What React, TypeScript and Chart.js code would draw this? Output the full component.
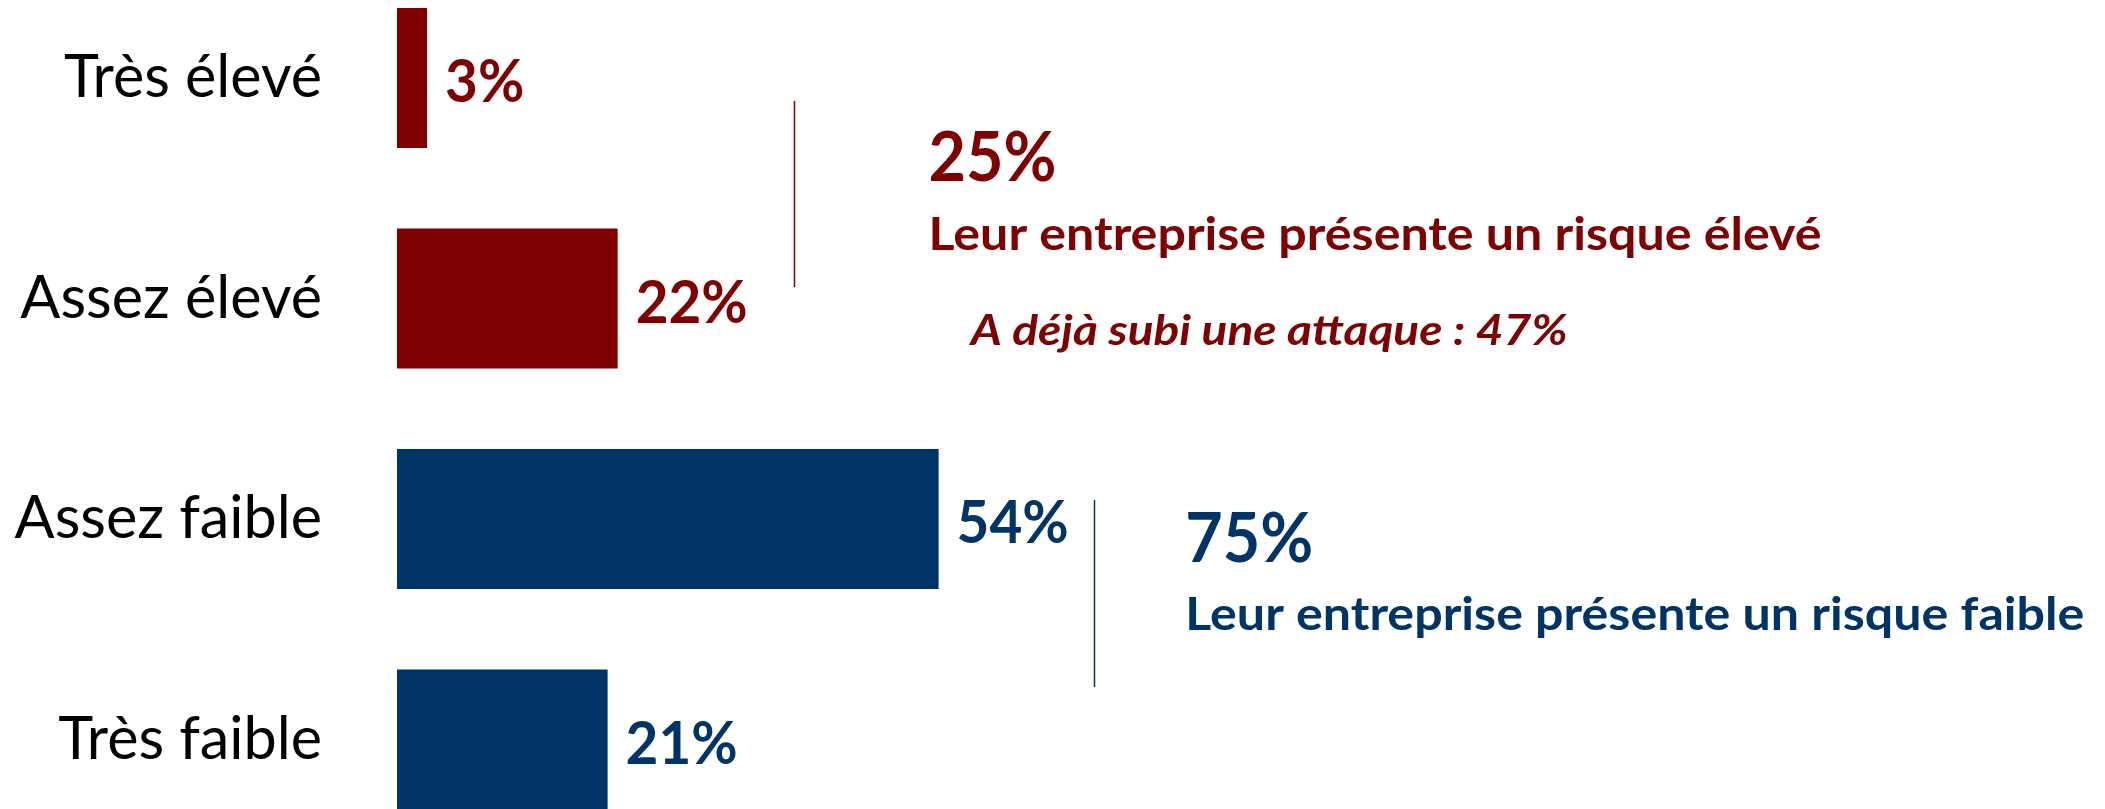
import React, { useEffect, useRef } from "react";
import { Chart, registerables } from "chart.js";

Chart.register(...registerables);

// ---- data ----
const categories = ["Très élevé", "Assez élevé", "Assez faible", "Très faible"];
const values = [3, 22, 54, 21];
const valueLabels = ["3%", "22%", "54%", "21%"];
const riskGroup = ["élevé", "élevé", "faible", "faible"];

const summaryTotals = ["25%", "75%"];
const summaryTexts = [
  "Leur entreprise présente un risque élevé",
  "Leur entreprise présente un risque faible",
];
const attackNote = "A déjà subi une attaque : 47%";

// ---- styles ----
const RED = "#7F0000";
const BLUE = "#003366";
const groupColor: Record<string, string> = { "élevé": RED, faible: BLUE };
const FAMILY = "Lato";
const CAP = 0.7165; // Lato cap-height ratio
const W = 2105;
const H = 809;

function widthAt(ctx: CanvasRenderingContext2D, text: string, font: string) {
  ctx.font = font;
  return ctx.measureText(text).width;
}

export default function App() {
  const ref = useRef<HTMLCanvasElement | null>(null);

  useEffect(() => {
    document.body.style.margin = "0";
    const canvas = ref.current!;
    const mctx = document.createElement("canvas").getContext("2d")!;

    const tickSize =
      (100 * 258) / widthAt(mctx, "Très élevé", `normal 100px ${FAMILY}`);

    // font specs: size from cap height, horizontal squeeze from target width
    const spec = (capPx: number, style: string, sample: string, target: number) => {
      const size = capPx / CAP;
      const font = `${style} ${size}px ${FAMILY}`;
      const sx = target / widthAt(mctx, sample, font);
      return { font, sx: Math.min(sx, 1.3) };
    };
    const valueSpec = spec(42, "bold", "54%", 112);
    const totalSpec = spec(49, "bold", "25%", 128);
    const textSpec = spec(33, "bold", summaryTexts[0], 893);
    const noteSpec = spec(30, "italic bold", attackNote, 597);

    const annot = {
      id: "annot",
      afterDatasetsDraw(chart: any) {
        const { ctx } = chart;
        const x = chart.scales.x;
        const y = chart.scales.y;
        const draw = (s: { font: string; sx: number }, text: string, px: number, py: number) => {
          ctx.save();
          ctx.font = s.font;
          ctx.translate(px, py);
          ctx.scale(s.sx, 1);
          ctx.fillText(text, 0, 0);
          ctx.restore();
        };
        ctx.save();
        ctx.textAlign = "left";
        ctx.textBaseline = "alphabetic";
        // value labels
        const meta = chart.getDatasetMeta(0);
        meta.data.forEach((bar: any, i: number) => {
          ctx.fillStyle = groupColor[riskGroup[i]];
          draw(valueSpec, valueLabels[i], bar.x + 18, bar.y + 24);
        });
        // separator lines
        const line = (xv: number, y0: number, y1: number, c: string) => {
          ctx.strokeStyle = c;
          ctx.lineWidth = 1.5;
          ctx.beginPath();
          const px = Math.round(x.getPixelForValue(xv)) + 0.5;
          ctx.moveTo(px, y.getPixelForValue(y0));
          ctx.lineTo(px, y.getPixelForValue(y1));
          ctx.stroke();
        };
        line(39.6, 0.104, 0.948, RED);
        line(69.5, 1.914, 2.762, BLUE);
        // high-risk summary
        ctx.fillStyle = RED;
        draw(totalSpec, summaryTotals[0], x.getPixelForValue(53.0), y.getPixelForValue(0.466));
        draw(textSpec, summaryTexts[0], x.getPixelForValue(53.0), y.getPixelForValue(0.78));
        draw(noteSpec, attackNote, x.getPixelForValue(57.2), y.getPixelForValue(1.211));
        // low-risk summary
        ctx.fillStyle = BLUE;
        draw(totalSpec, summaryTotals[1], x.getPixelForValue(78.6), y.getPixelForValue(2.194));
        draw(textSpec, summaryTexts[1], x.getPixelForValue(78.6), y.getPixelForValue(2.503));
        ctx.restore();
      },
    };

    const chart = new Chart(canvas, {
      type: "bar",
      data: {
        labels: categories,
        datasets: [
          {
            data: values,
            backgroundColor: riskGroup.map((g) => groupColor[g]),
            borderWidth: 0,
            barPercentage: 0.635,
            categoryPercentage: 1,
            clip: false as any,
          },
        ],
      },
      options: {
        indexAxis: "y",
        responsive: false,
        animation: false,
        devicePixelRatio: 1,
        layout: { padding: { top: 78, bottom: 69.5, left: 0, right: 3 } },
        plugins: { legend: { display: false }, tooltip: { enabled: false } },
        scales: {
          x: { type: "linear", min: 0, max: 170, display: false },
          y: {
            type: "category",
            offset: false,
            grid: { display: false, drawTicks: false },
            border: { display: false },
            ticks: {
              autoSkip: false,
              padding: 75,
              color: "#000000",
              font: { family: FAMILY, size: tickSize, weight: "normal" },
            },
            afterFit: (scale: any) => {
              scale.width = 397;
              scale.paddingTop = 0;
              scale.paddingBottom = 0;
            },
          },
        },
      },
      plugins: [annot],
    } as any);

    return () => chart.destroy();
  }, []);

  return (
    <canvas
      ref={ref}
      width={W}
      height={H}
      style={{ display: "block", width: W, height: H }}
    />
  );
}
